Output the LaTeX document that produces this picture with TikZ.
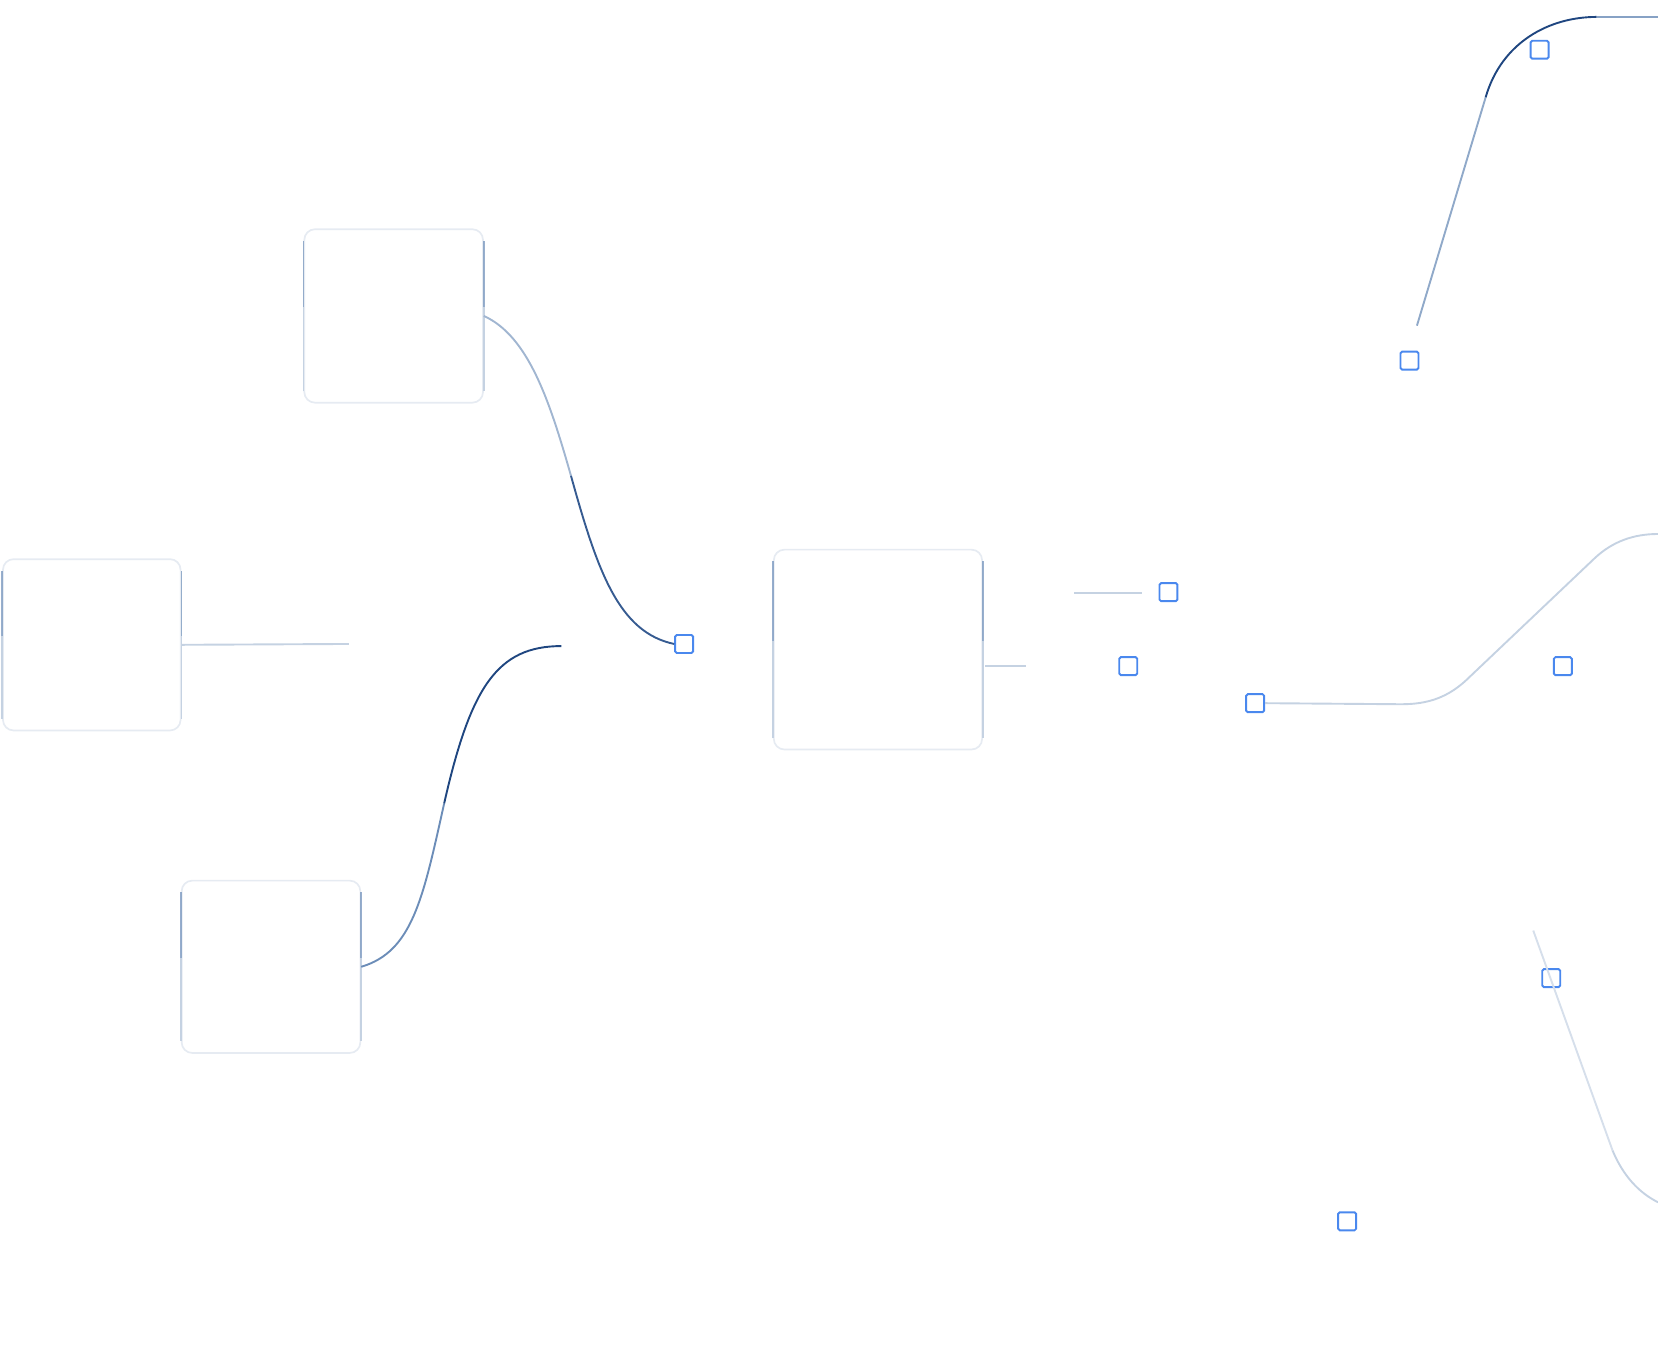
\documentclass[tikz,border=0pt]{standalone}
\begin{document}
\begin{tikzpicture}[x=1pt,y=-1pt,
  box/.style={draw=boxedge,line width=1.6pt,rounded corners=10pt,fill=white,anchor=north west,inner sep=0pt},
  sq/.style={draw=sqblue,line width=1.8pt,fill=white,minimum size=17pt,inner sep=0pt,rounded corners=1.5pt},
  wire/.style={line width=1.8pt},
]
\definecolor{boxedge}{HTML}{E6EBF2}
\definecolor{sqblue}{HTML}{4A88EE}
\definecolor{dark}{HTML}{1F4680}
\definecolor{mid}{HTML}{6C8DB8}
\definecolor{light}{HTML}{C5D2E2}
\useasboundingbox (0,0) rectangle (1568,1280.5);
\node[box,minimum width=169pt,minimum height=164pt] (A) at (287,216) {};
\node[box,minimum width=168pt,minimum height=162pt] (B) at (2,528) {};
\node[box,minimum width=169pt,minimum height=163pt] (C) at (171,832) {};
\node[box,minimum width=197pt,minimum height=189pt] (D) at (731,519) {};
\foreach \n in {A,B,C,D}{
  \draw[line width=1.6pt,mid,opacity=.7] ([yshift=-12pt]\n.north west) -- ([yshift=-8pt]\n.west);
  \draw[line width=1.6pt,light] ([yshift=8pt]\n.west) -- ([yshift=12pt]\n.south west);
  \draw[line width=1.6pt,mid,opacity=.7] ([yshift=-12pt]\n.north east) -- ([yshift=-8pt]\n.east);
  \draw[line width=1.6pt,light] ([yshift=8pt]\n.east) -- ([yshift=12pt]\n.south east);
}
\node[sq] (s1) at (647,609) {};
\node[sq] (s2) at (1105,560) {};
\node[sq] (s3) at (1067,630) {};
\node[sq] (s4) at (1187,665) {};
\node[sq] (s5) at (1333,341) {};
\node[sq] (s6) at (1456,47) {};
\node[sq] (s7) at (1478,630) {};
\node[sq] (s8) at (1467,925) {};
\node[sq] (s9) at (1274,1155) {};
\coordinate (cEnd) at (531,611);
\coordinate (bEnd) at (330,609);
\coordinate (t1) at (1016,561); \coordinate (t2) at (1080,561);
\coordinate (d2) at (970,630);
\coordinate (r1) at (1568,505);
\coordinate (top0) at (1340,308); \coordinate (top1) at (1568,16);
\coordinate (bot0) at (1450,880); \coordinate (bot1) at (1568,1137);
\coordinate (am) at (540,450);
\draw[wire,light!60!mid] (A.east) .. controls (500,318) and (520,380) .. (am);
\draw[wire,dark!70!mid] (am) .. controls (565,540) and (585,598) .. (s1.west);
\draw[wire,dark] (cEnd) .. controls (470,611) and (445,650) .. (420,760);
\draw[wire,mid] (420,760) .. controls (400,850) and (390,900) .. (C.east);
\draw[wire,light] (B.east) -- (bEnd);
\draw[wire,light] (t1) -- (t2);
\draw[wire,light] (D.east|-d2) ++(2,0) -- (d2);
\draw[wire,light] (s4.east) -- (1325,666) .. controls (1350,666) and (1370,660) .. (1390,640) -- (1508,528) .. controls (1525,512) and (1545,505) .. (r1);
\draw[wire,mid!60!light] (top0) -- (1405,92);
\draw[wire,dark] (1405,92) .. controls (1420,40) and (1465,16) .. (1510,16);
\draw[wire,mid!70!light] (1510,16) -- (top1);
\draw[wire,light!70!white] (bot0) -- (1525,1088);
\draw[wire,light] (1525,1088) .. controls (1535,1112) and (1550,1128) .. (bot1);
\end{tikzpicture}
\end{document}
